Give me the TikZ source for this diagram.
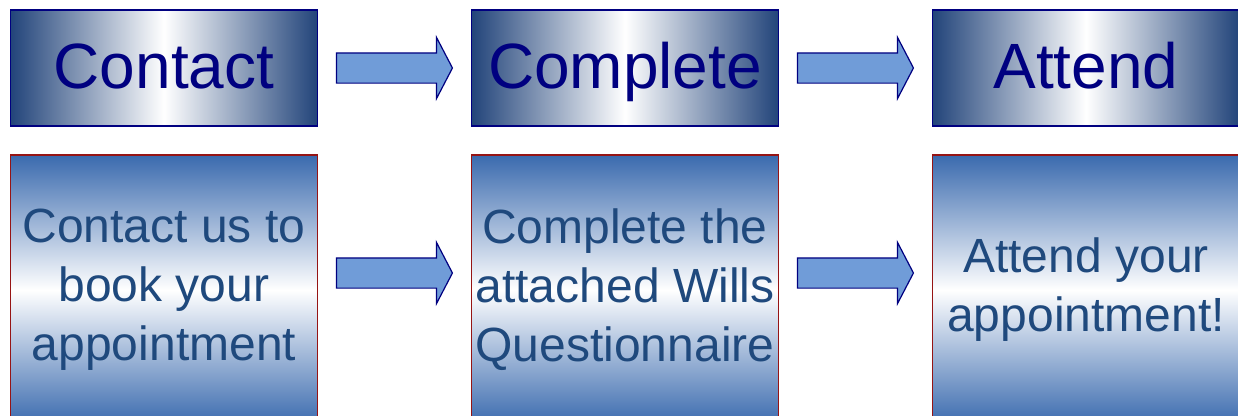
\documentclass[tikz,border=0pt]{standalone}
\usepackage{fontspec}
\setmainfont{Liberation Sans}
\usetikzlibrary{shapes.arrows}

\definecolor{navyline}{RGB}{0,0,128}
\definecolor{headedge}{RGB}{34,68,122}
\definecolor{noteedge}{RGB}{58,106,174}
\definecolor{redline}{RGB}{150,20,20}
\definecolor{notetext}{RGB}{31,73,125}
\definecolor{arrowblue}{RGB}{112,156,216}

\begin{document}
\begin{tikzpicture}[
    x=1pt, y=-1pt,
    head/.style={rectangle, draw=navyline, line width=1.5pt, minimum width=307pt, minimum height=116pt,
        inner sep=0pt, left color=headedge, right color=headedge, middle color=white,
        text=navyline, font=\fontsize{64}{70}\selectfont, text height=50pt, text depth=10pt},
    note/.style={rectangle, draw=redline, line width=1.5pt, minimum width=307pt, minimum height=270pt,
        inner sep=0pt, top color=noteedge, bottom color=noteedge, middle color=white,
        align=center, text=notetext, font=\fontsize{48}{59}\selectfont},
    blockarrow/.style={single arrow, draw=navyline, fill=arrowblue, line width=1.2pt,
        minimum height=116pt, single arrow head extend=15.5pt, single arrow tip angle=125,
        inner xsep=0pt, inner ysep=14.5pt}
]
\useasboundingbox (0,0) rectangle (1238,415);

% Step headings
\node[head] (contact) at (164,68) {Contact};
\node[head] (complete) at (625,68) {Complete};
\node[head] (attend) at (1086,68) {Attend};

% Step details
\node[note] (contactnote) at (164,290) {Contact us to\\book your\\appointment};
\node[note] (completenote) at (625,290) {Complete the\\attached Wills\\Questionnaire};
\node[note] (attendnote) at (1086,290) {Attend your\\appointment!};

% Block arrows
\node[blockarrow] (headarrow1) at (390.5,68) {};
\node[blockarrow] (headarrow2) at (851.5,68) {};
\node[blockarrow] (notearrow1) at (390.5,273) {};
\node[blockarrow] (notearrow2) at (851.5,273) {};

\end{tikzpicture}
\end{document}
